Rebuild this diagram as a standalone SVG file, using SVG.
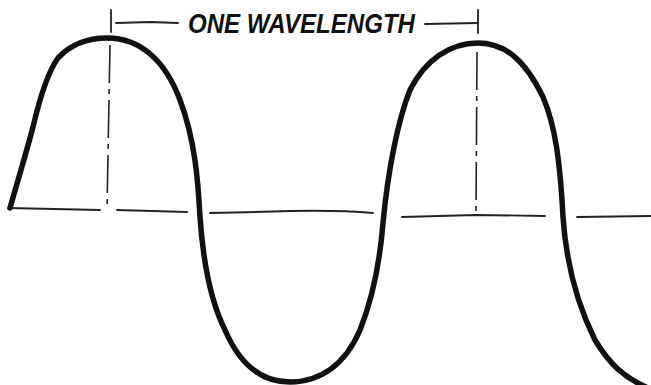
<svg xmlns="http://www.w3.org/2000/svg" width="651" height="385" viewBox="0 0 651 385">
<style>
.wave{fill:none;stroke:#111;stroke-width:5.5;stroke-linecap:round;stroke-linejoin:round}
.axis{fill:none;stroke:#222;stroke-width:1.8;stroke-linecap:round}
.dash{fill:none;stroke:#222;stroke-width:1.6;stroke-dasharray:38 6 5 6}
.tick{fill:none;stroke:#222;stroke-width:1.8;stroke-linecap:round}
.lbl{font-family:"Liberation Sans",Arial,sans-serif;font-weight:bold;font-style:italic;font-size:27px;fill:#111}
</style>
<rect width="651" height="385" fill="#fff"/>
<g id="axis">
<path class="axis" d="M8,208 L100,210"/>
<path class="axis" d="M117,210 L187,212"/>
<path class="axis" d="M210,213 Q260,212 290,211 Q340,210 373,213"/>
<path class="axis" d="M402,217 L476,215 L545,216"/>
<path class="axis" d="M577,217 L651,216"/>
</g>
<g id="wavelength-marker">
<path class="tick" d="M111,10 L111,32"/>
<path class="dash" d="M110,45 L107,210"/>
<path class="tick" d="M478,10 L478,33"/>
<path class="dash" d="M477,52 L476,215"/>
<path class="tick" d="M116,23 L150,22 L178,23"/>
<path class="tick" d="M425,24 L478,23"/>
<text class="lbl" x="188" y="33" textLength="227" lengthAdjust="spacingAndGlyphs">ONE WAVELENGTH</text>
</g>
<g id="wave">
<path class="wave" d="M10,208 C18,180 27,150 33,127 C40,97 48,72 58,58 C72,43 88,38 107,38 C140,38 165,60 180,100 C195,140 198,180 200,217 C203,260 210,300 225,330 C240,365 262,382 290,382 C320,382 345,365 360,330 C372,300 380,260 383,223 C388,170 398,120 410,90 C425,60 450,43 478,43 C505,43 525,60 543,97 C555,125 560,160 563,217 C566,260 575,300 595,340 C610,365 625,378 648,388"/>
</g>
</svg>
